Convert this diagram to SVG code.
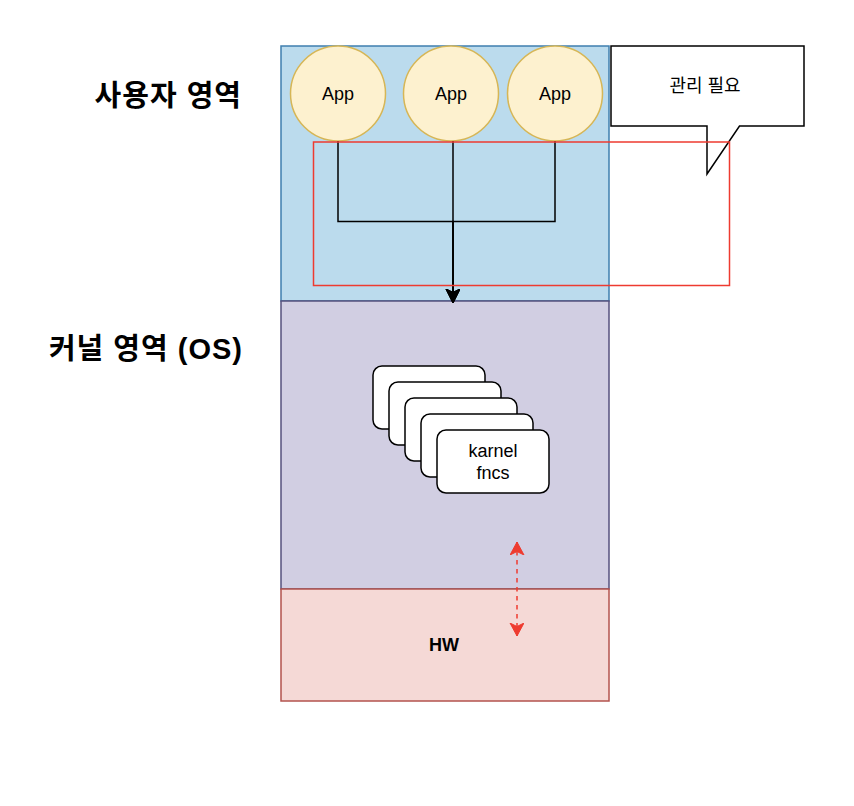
<svg xmlns="http://www.w3.org/2000/svg" width="854" height="806" viewBox="0 0 854 806">
  <style>
    .region { stroke-width: 1.5; }
    .app { fill: #fdf1cf; stroke: #d6b656; stroke-width: 1.5; }
    .lbl { font-family: "Liberation Sans", Arial, sans-serif; font-size: 18px; fill: #000; text-anchor: middle; }
    .kr { font-family: "Liberation Sans", "Noto Sans CJK KR", sans-serif; }
    .head { font-family: "Liberation Sans", "Noto Sans CJK KR", sans-serif; font-size: 29px; font-weight: bold; fill: #000; text-anchor: end; letter-spacing: 1px; }
    .card { fill: #ffffff; stroke: #000; stroke-width: 1.5; }
    .edge { fill: none; stroke: #000; stroke-width: 1.5; }
    .redline { fill: none; stroke: #ee3b30; stroke-width: 1.5; }
  </style>
  <defs>
    <marker id="arrowBlack" markerUnits="userSpaceOnUse" markerWidth="16" markerHeight="16" refX="14" refY="7" orient="auto">
      <path d="M0,0 L14,7 L0,14 L3.5,7 Z" fill="#000" stroke="#000" stroke-width="1"/>
    </marker>
    <marker id="arrowRed" markerUnits="userSpaceOnUse" markerWidth="16" markerHeight="16" refX="13" refY="7" orient="auto-start-reverse">
      <path d="M0,0 L13,7 L0,14 L3.5,7 Z" fill="#ee3b30" stroke="#ee3b30" stroke-width="1"/>
    </marker>
  </defs>
  <rect width="854" height="806" fill="#ffffff"/>

  <g id="label-user">
    <text class="head" x="242" y="106">사용자 영역</text>
  </g>
  <g id="label-kernel">
    <text class="head" x="243" y="359">커널 영역 (OS)</text>
  </g>

  <g id="user-area">
    <rect class="region" x="281" y="46" width="328" height="255" fill="#bbdbed" stroke="#3f7fae"/>
  </g>
  <g id="kernel-area">
    <rect class="region" x="281" y="301" width="328" height="288" fill="#d1cee2" stroke="#56517e"/>
  </g>
  <g id="hw-area">
    <rect class="region" x="281" y="589" width="328" height="112" fill="#f5d9d6" stroke="#b3534e"/>
    <text class="lbl" x="444" y="651" font-weight="bold">HW</text>
  </g>

  <g id="app1">
    <circle class="app" cx="338" cy="93.5" r="47.5"/>
    <text class="lbl" x="338" y="100">App</text>
  </g>
  <g id="app2">
    <circle class="app" cx="451" cy="93.5" r="47.5"/>
    <text class="lbl" x="451" y="100">App</text>
  </g>
  <g id="app3">
    <circle class="app" cx="555" cy="93.5" r="47.5"/>
    <text class="lbl" x="555" y="100">App</text>
  </g>

  <g id="kernel-fncs">
    <rect class="card" x="373" y="366" width="112" height="63" rx="9"/>
    <rect class="card" x="389" y="382" width="112" height="63" rx="9"/>
    <rect class="card" x="405" y="398" width="112" height="63" rx="9"/>
    <rect class="card" x="421" y="414" width="112" height="63" rx="9"/>
    <rect class="card" x="437" y="430" width="112" height="63" rx="9"/>
    <text class="lbl" x="493" y="457">karnel</text>
    <text class="lbl" x="493" y="479">fncs</text>
  </g>

  <g id="connectors">
    <path class="edge" d="M338,141 V221.5 H453 V303" marker-end="url(#arrowBlack)"/>
    <path class="edge" d="M555,141 V221.5 H453 V303" marker-end="url(#arrowBlack)"/>
    <path class="edge" d="M453,141 V303" marker-end="url(#arrowBlack)"/>
    <path d="M517,542 V636" fill="none" stroke="#ee3b30" stroke-width="1.5" stroke-dasharray="4.5 4.5" marker-start="url(#arrowRed)" marker-end="url(#arrowRed)"/>
  </g>

  <g id="callout">
    <path d="M611,46 H804 V126 H739.5 L707,174 V126 H611 Z" fill="#ffffff" stroke="#000" stroke-width="1.5"/>
    <text class="lbl kr" x="705" y="92">관리 필요</text>
  </g>

  <g id="manage-box">
    <rect class="redline" x="313.5" y="142" width="416" height="143.5"/>
  </g>
</svg>
